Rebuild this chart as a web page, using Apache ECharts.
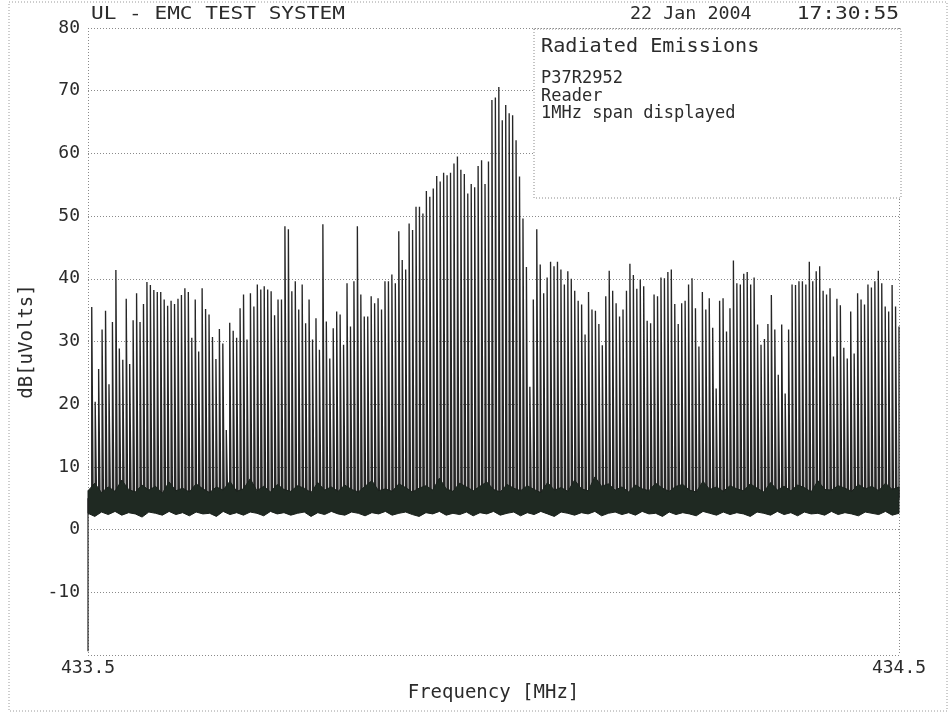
<!DOCTYPE html>
<html><head><meta charset="utf-8">
<script src="https://cdn.jsdelivr.net/npm/echarts@6.0.0/dist/echarts.min.js"></script>
<style>html,body{margin:0;padding:0;background:#fff}#c{width:950px;height:713px}</style>
</head><body><div id="c"></div>
<script>
// ---- data ----
const freqMin = 433.5, freqMax = 434.5;
const xTicks = [433.5, 434.5];
const yTicks = [80, 70, 60, 50, 40, 30, 20, 10, 0, -10];
const spikeFirstMHz = 433.5046, spikeLastMHz = 434.5;
const spikeBase = 5;
// spike peak levels dB[uV], left to right
const spikeLevels = [
 35.5,20.4,25.6,31.9,34.9,23.2,33.1,41.4,28.9,27.1,36.8,26.4,33.4,37.7,33.1,36.0,39.5,39.0,38.2,37.9,37.9,36.7,35.7,36.5,36.0,36.8,37.4,38.5,37.9,30.6,36.7,28.4,38.5,
 35.2,34.3,30.7,27.2,32.0,29.7,15.9,33.0,31.7,30.6,35.3,37.5,30.3,37.7,35.6,39.1,38.3,38.8,38.3,38.0,34.2,36.7,36.7,48.4,47.9,38.0,39.6,35.1,39.1,32.9,36.7,30.3,33.7,
 28.7,48.7,33.2,27.3,32.1,34.8,34.3,29.5,39.3,32.4,39.6,48.4,37.5,34.0,34.0,37.2,36.1,36.9,35.1,39.6,39.6,40.7,39.3,47.6,
 43.0,41.5,48.8,47.8,51.5,51.5,50.4,54.0,53.1,54.4,56.4,55.5,56.9,56.5,56.9,58.4,59.5,57.4,56.7,53.6,55.1,54.6,58.0,58.9,55.1,58.7,68.5,68.9,70.6,65.3,67.7,66.4,66.1,62.1,56.3,49.6,41.9,
 22.8,36.7,47.9,42.3,37.7,40.2,42.7,42.0,42.7,41.5,39.1,41.2,40.0,38.1,36.5,35.9,31.1,37.9,35.1,34.9,32.8,29.4,37.2,41.3,38.1,36.1,34.0,35.1,38.1,42.4,40.6,38.4,39.9,38.8,33.3,
 32.9,37.5,37.2,40.2,40.1,41.1,41.5,36.0,32.8,36.1,36.5,39.1,40.1,35.3,29.2,37.9,35.1,36.9,32.2,22.5,36.5,36.9,31.6,35.3,42.9,39.3,39.1,40.8,41.1,39.1,40.2,32.7,29.5,30.4,32.8,
 37.4,31.9,24.7,32.7,21.7,31.9,39.1,39.0,39.6,39.6,39.1,42.7,39.6,41.2,42.0,38.1,37.5,38.5,27.6,36.8,35.8,29.0,27.3,34.8,28.1,37.7,36.7,35.9,39.1,38.6,39.6,41.3,39.3,35.6,34.8,39.0,35.6,32.4
];
// noise floor band edges (evenly spaced across the span)
const noiseTop = [
 6.2,7.4,5.9,6.8,6.1,7.9,6.4,6.0,7.1,6.3,6.9,5.8,7.6,6.2,6.6,6.0,7.3,6.5,5.9,6.8,
 6.3,7.7,6.1,6.5,8.1,6.2,6.9,6.0,7.2,6.4,6.1,7.0,6.6,5.9,7.5,6.3,6.8,6.1,7.1,6.4,
 6.0,6.9,7.8,6.2,6.5,6.1,7.3,6.7,6.0,6.6,7.0,6.3,8.2,6.5,6.1,7.4,6.8,6.2,6.9,7.6,
 6.4,6.0,7.2,6.6,6.2,7.0,6.4,5.9,7.5,6.3,6.7,6.1,7.9,6.5,6.2,8.4,6.9,7.3,6.3,6.8,
 6.0,7.1,6.5,6.2,7.4,6.6,6.1,6.9,7.2,6.3,6.0,7.7,6.4,6.8,6.1,7.0,6.5,6.2,7.3,6.6,
 6.0,7.5,6.3,6.9,6.2,7.1,6.7,6.0,7.8,6.4,6.3,7.0,6.6,6.1,7.2,6.5,6.9,6.2,7.4,6.4,6.8
];
const noiseBottom = [
 2.6,2.1,2.8,2.4,2.9,2.3,2.7,2.5,2.0,2.8,2.6,2.3,2.9,2.4,2.7,2.2,2.8,2.5,2.6,2.1,
 2.9,2.4,2.7,2.3,2.8,2.6,2.2,2.9,2.5,2.7,2.3,2.6,2.8,2.1,2.7,2.4,2.9,2.5,2.3,2.8,
 2.6,2.2,2.7,2.5,2.9,2.3,2.6,2.8,2.4,2.1,2.7,2.5,2.9,2.3,2.6,2.4,2.8,2.2,2.7,2.5,
 2.9,2.3,2.6,2.8,2.2,2.7,2.4,2.9,2.5,2.1,2.8,2.6,2.3,2.7,2.5,2.9,2.2,2.6,2.8,2.4,
 2.7,2.3,2.9,2.5,2.6,2.1,2.8,2.4,2.7,2.5,2.2,2.9,2.6,2.3,2.8,2.4,2.7,2.5,2.1,2.8,
 2.6,2.3,2.9,2.4,2.7,2.2,2.8,2.5,2.6,2.3,2.9,2.4,2.7,2.5,2.2,2.8,2.6,2.4,2.9,2.3,2.6
];
const traceStart = [[433.5, -19.4], [433.5, 5]];
const titleLeft = 'UL - EMC TEST SYSTEM';
const titleDate = '22 Jan 2004';
const titleTime = '17:30:55';
const noteTitle = 'Radiated Emissions';
const noteLines = ['P37R2952', 'Reader', '1MHz span displayed'];

// ---- build series ----
const n = spikeLevels.length;
const df = (spikeLastMHz - spikeFirstMHz) / (n - 1);
const spikeHalf = 0.0017;
const spikeData = [];
spikeLevels.forEach((v, i) => {
  const f = spikeFirstMHz + i * df;
  spikeData.push([f, spikeBase], [f, v], [Math.min(f + spikeHalf, freqMax), spikeBase]);
});
const nb = noiseTop.length;
const noiseFreq = noiseTop.map((_, i) => freqMin + i * (freqMax - freqMin) / (nb - 1));

const FONT = 'DejaVu Sans Mono';
const INK = '#2b2b2b';
const chart = echarts.init(document.getElementById('c'), null, {renderer: 'canvas'});
chart.setOption({
  animation: false,
  backgroundColor: '#fff',
  grid: {left: 88, right: 51, top: 28, bottom: 58},
  xAxis: {
    type: 'value', min: freqMin, max: freqMax, interval: 1,
    name: 'Frequency [MHz]', nameLocation: 'middle', nameGap: 29,
    nameTextStyle: {fontFamily: FONT, fontSize: 19, color: INK},
    axisLine: {show: false}, axisTick: {show: false},
    axisLabel: {showMinLabel: true, showMaxLabel: true, fontFamily: FONT, fontSize: 18, color: INK, margin: 4,
      formatter: v => xTicks.some(t => Math.abs(t - v) < 1e-6) ? v.toFixed(1) : ''},
    splitLine: {show: true, lineStyle: {color: '#8a8a8a', type: [1, 2], width: 1}}
  },
  yAxis: {
    type: 'value', min: -20, max: 80, interval: 10,
    name: 'dB[uVolts]', nameLocation: 'middle', nameGap: 45, nameRotate: 90,
    nameTextStyle: {fontFamily: FONT, fontSize: 19, color: INK},
    axisLine: {show: false}, axisTick: {show: false},
    axisLabel: {fontFamily: FONT, fontSize: 18, color: INK, margin: 8,
      formatter: v => yTicks.includes(v) ? String(v) : ''},
    splitLine: {show: true, lineStyle: {color: '#8a8a8a', type: [1, 2], width: 1}}
  },
  series: [
    {type: 'line', name: 'spikes', data: spikeData, symbol: 'none', z: 2,
     lineStyle: {color: '#262626', width: 1.35}},
    {type: 'custom', name: 'noise', z: 3, data: [[freqMin, 0]],
     renderItem: (params, api) => {
       const pts = [];
       noiseTop.forEach((v, i) => pts.push(api.coord([noiseFreq[i], v])));
       for (let i = nb - 1; i >= 0; i--) pts.push(api.coord([noiseFreq[i], noiseBottom[i]]));
       return {type: 'polygon', shape: {points: pts},
               style: {fill: '#1f2922', stroke: '#1a211c', lineWidth: 1}};
     }},
    {type: 'line', name: 'start', data: traceStart, symbol: 'none', z: 4,
     lineStyle: {color: '#222', width: 1.2}}
  ],
  graphic: [
    {type: 'rect', z: 100, shape: {x: 9, y: 2, width: 938, height: 709},
     style: {fill: 'none', stroke: '#9a9a9a', lineWidth: 1, lineDash: [1, 2]}},
    {type: 'text', z: 100, x: 91, y: 15, scaleX: 1.24,
     style: {text: titleLeft, font: '17px ' + FONT, fill: INK, verticalAlign: 'middle'}},
    {type: 'text', z: 100, x: 630, y: 15, scaleX: 1.08,
     style: {text: titleDate, font: '17px ' + FONT, fill: INK, verticalAlign: 'middle'}},
    {type: 'text', z: 100, x: 899, y: 15, scaleX: 1.25,
     style: {text: titleTime, font: '17px ' + FONT, fill: INK, align: 'right', verticalAlign: 'middle'}},
    {type: 'rect', z: 100, shape: {x: 534, y: 29, width: 367, height: 169},
     style: {fill: '#fff', stroke: '#8a8a8a', lineWidth: 1, lineDash: [1, 2]}},
    {type: 'text', z: 101, x: 541, y: 47, scaleX: 1.06,
     style: {text: noteTitle, font: '19px ' + FONT, fill: INK, verticalAlign: 'middle'}},
    {type: 'text', z: 101, x: 541, y: 70,
     style: {text: noteLines.join('\n'), font: '17px ' + FONT, fill: INK, lineHeight: 17.5}}
  ]
});
</script></body></html>
